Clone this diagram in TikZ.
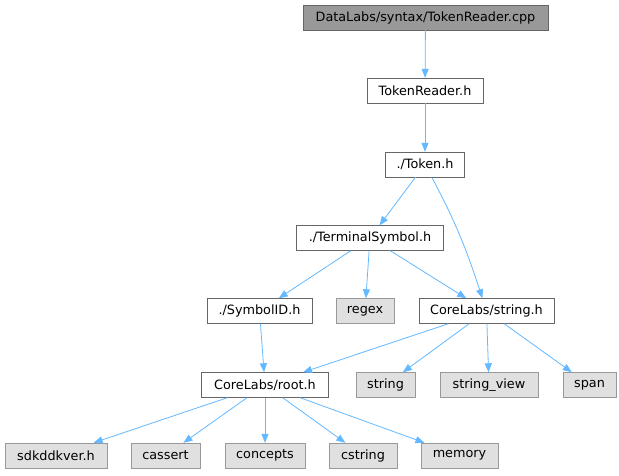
\documentclass[tikz,border=0pt]{standalone}
\usepackage{fontspec}
\setmainfont{DejaVu Sans}
\usetikzlibrary{positioning, arrows.meta}
\definecolor{edgeblue}{HTML}{63B8FF}
\definecolor{sysgray}{HTML}{E0E0E0}
\definecolor{rimgray}{HTML}{999999}
\definecolor{darkrim}{HTML}{666666}
\begin{document}
\begin{tikzpicture}[x=1pt, y=1pt, font=\fontsize{12.8}{14}\selectfont]
    % Define styles
    \tikzstyle{rootfile} = [rectangle, minimum height=25pt, inner xsep=9pt, draw=darkrim, fill=rimgray]
    \tikzstyle{header} = [rectangle, minimum height=25pt, inner xsep=9pt, draw=darkrim, fill=white]
    \tikzstyle{syshdr} = [rectangle, minimum height=25pt, inner xsep=9pt, draw=rimgray, fill=sysgray]
    \tikzstyle{arrow} = [draw=edgeblue, line width=0.8pt, ->, >={Triangle[length=9pt, width=7pt]}]

    \useasboundingbox (0,0) rectangle (619,476);

    % Nodes
    \node (cpp) [rootfile, minimum width=245pt] at (425.5,458.5) {DataLabs/syntax/TokenReader.cpp};
    \node (trh) [header, minimum width=116pt] at (425,385.5) {TokenReader.h};
    \node (tok) [header, minimum width=79pt] at (425,311.5) {./Token.h};
    \node (term) [header, minimum width=147pt] at (370,238) {./TerminalSymbol.h};
    \node (symid) [header, minimum width=105pt] at (259.5,165) {./SymbolID.h};
    \node (regex) [syshdr, minimum width=58pt] at (365,165) {regex};
    \node (strh) [header, minimum width=135pt] at (486.5,165) {CoreLabs/string.h};
    \node (root) [header, minimum width=127pt] at (265,91) {CoreLabs/root.h};
    \node (string) [syshdr, minimum width=59pt] at (385.5,91) {string};
    \node (sview) [syshdr, minimum width=98pt] at (489,91) {string\_view};
    \node (span) [syshdr, minimum width=53pt] at (589.5,91) {span};
    \node (sdk) [syshdr, minimum width=102pt] at (56,20.5) {sdkddkver.h};
    \node (cassert) [syshdr, minimum width=69pt] at (165.5,20.5) {cassert};
    \node (concepts) [syshdr, minimum width=80pt] at (265,20.5) {concepts};
    \node (cstring) [syshdr, minimum width=68pt] at (363,20.5) {cstring};
    \node (memory) [syshdr, minimum width=77pt] at (459.5,20.5) {memory};

    % Arrows
    \draw [arrow] (cpp) -- (trh);
    \draw [arrow] (trh) -- (tok);
    \draw [arrow] (tok) -- (term);
    \draw [arrow] (tok) to[out=-62, in=108] (strh);
    \draw [arrow] (term) -- (symid);
    \draw [arrow] (term) -- (regex);
    \draw [arrow] (term) -- (strh);
    \draw [arrow] (symid) -- (root);
    \draw [arrow] (strh) -- (root);
    \draw [arrow] (strh) -- (string);
    \draw [arrow] (strh) -- (sview);
    \draw [arrow] (strh) -- (span);
    \draw [arrow] (root) -- (sdk);
    \draw [arrow] (root) -- (cassert);
    \draw [arrow] (root) -- (concepts);
    \draw [arrow] (root) -- (cstring);
    \draw [arrow] (root) -- (memory);
\end{tikzpicture}
\end{document}
